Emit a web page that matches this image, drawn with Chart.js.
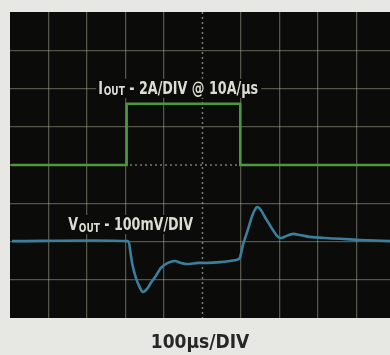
<!DOCTYPE html>
<html>
<head>
<meta charset="utf-8">
<script src="https://cdn.jsdelivr.net/npm/chart.js@4.4.1/dist/chart.umd.min.js"></script>
<style>
  html, body { margin: 0; padding: 0; background: #e7e8e4; overflow: hidden; }
  #wrap { position: relative; width: 390px; height: 355px; }
</style>
</head>
<body>
<div id="wrap"><canvas id="c" width="390" height="355"></canvas></div>
<script>
// Time axis in divisions (100 µs/DIV), vertical axis in divisions
const ioutX = [0.03, 3.03, 3.03, 5.98, 5.98, 9.87];
const ioutY = [0.0, 0.0, 1.6, 1.6, 0.0, 0.0];

const voutX = [0.05, 3.06, 3.12, 3.17, 3.27, 3.38, 3.45, 3.56, 3.66, 3.77, 3.92, 4.10, 4.29, 4.44, 4.60, 4.88, 5.14, 5.45, 5.71, 5.90, 5.97, 6.05, 6.16, 6.29, 6.39, 6.44, 6.52, 6.65, 6.81, 6.94, 7.04, 7.17, 7.35, 7.53, 7.79, 8.18, 8.57, 9.09, 9.87];
const voutY = [-1.99, -1.99, -2.22, -2.56, -2.95, -3.22, -3.32, -3.24, -3.08, -2.93, -2.69, -2.56, -2.51, -2.56, -2.59, -2.56, -2.56, -2.54, -2.51, -2.48, -2.43, -2.09, -1.75, -1.33, -1.12, -1.10, -1.18, -1.41, -1.67, -1.86, -1.91, -1.86, -1.80, -1.83, -1.88, -1.91, -1.93, -1.96, -1.99];

const xTicks = [0, 1, 2, 3, 4, 5, 6, 7, 8, 9, 10];
const yTicks = [-4, -3, -2, -1, 0, 1, 2, 3, 4];

const ioutText = ['I', 'OUT', ' - 2A/DIV @ 10A/µs'];
const voutText = ['V', 'OUT', ' - 100mV/DIV'];
const timeLabel = '100µs/DIV';

const toPts = (xs, ys) => xs.map((x, i) => ({ x: x, y: ys[i] }));

const FONT = "'Liberation Sans Narrow', 'DejaVu Sans Condensed', 'Roboto', sans-serif";

const scopePlugin = {
  id: 'scope',
  beforeDraw(chart) {
    const { ctx, chartArea: a } = chart;
    ctx.save();
    ctx.fillStyle = '#0b0b09';
    ctx.fillRect(a.left, a.top, a.right - a.left, a.bottom - a.top);
    ctx.restore();
  },
  beforeDatasetsDraw(chart) {
    const { ctx, chartArea: a, scales } = chart;
    const cx = scales.x.getPixelForValue(5);
    const cy = scales.y.getPixelForValue(0);
    ctx.save();
    ctx.strokeStyle = 'rgba(215,215,195,0.55)';
    ctx.lineWidth = 1.5;
    ctx.setLineDash([2, 3]);
    ctx.beginPath();
    ctx.moveTo(cx, a.top); ctx.lineTo(cx, a.bottom);
    ctx.moveTo(a.left, cy); ctx.lineTo(a.right, cy);
    ctx.stroke();
    ctx.restore();
  },
  afterDatasetsDraw(chart, args, opts) {
    const { ctx, scales } = chart;
    const drawLabel = (parts, pos) => {
      const x0 = scales.x.getPixelForValue(pos.x);
      const yb = scales.y.getPixelForValue(pos.y);
      ctx.save();
      const big = 'bold 17px ' + FONT;
      const small = 'bold 12px ' + FONT;
      ctx.font = big; const w1 = ctx.measureText(parts[0]).width;
      ctx.font = small; const w2 = ctx.measureText(parts[1]).width;
      ctx.font = big; const w3 = ctx.measureText(parts[2]).width;
      const total = w1 + w2 + w3 + 1;
      const sx = pos.w / total;
      ctx.fillStyle = '#0b0b09';
      ctx.fillRect(x0 - 2, yb - 15, pos.w + 5, 19);
      ctx.translate(x0, yb);
      ctx.scale(sx, 1);
      ctx.fillStyle = '#dcdcd4';
      ctx.textBaseline = 'alphabetic';
      ctx.textAlign = 'left';
      ctx.font = big; ctx.fillText(parts[0], 0, 0);
      ctx.font = small; ctx.fillText(parts[1], w1 + 1, 1.5);
      ctx.font = big; ctx.fillText(parts[2], w1 + w2 + 1, 0);
      ctx.restore();
    };
    drawLabel(ioutText, opts.iout);
    drawLabel(voutText, opts.vout);
  }
};

const gridColor = (ctx) => {
  const v = ctx.tick && ctx.tick.value;
  if (v === undefined) return 'transparent';
  if (!Number.isInteger(v)) return 'transparent';
  return 'rgba(185,185,160,0.42)';
};

new Chart(document.getElementById('c'), {
  type: 'scatter',
  data: {
    datasets: [
      {
        label: 'IOUT',
        data: toPts(ioutX, ioutY),
        showLine: true,
        borderColor: '#4f9640',
        borderWidth: 2.5,
        pointRadius: 0,
        tension: 0
      },
      {
        label: 'VOUT',
        data: toPts(voutX, voutY),
        showLine: true,
        borderColor: '#3a7f9e',
        borderWidth: 2.6,
        pointRadius: 0,
        tension: 0.2
      }
    ]
  },
  options: {
    responsive: false,
    animation: false,
    events: [],
    layout: { padding: { left: 10, right: 0, top: 12, bottom: 0 } },
    plugins: {
      legend: { display: false },
      tooltip: { enabled: false },
      title: {
        display: true,
        position: 'bottom',
        text: timeLabel,
        color: '#262624',
        font: { family: FONT, size: 19, weight: 'bold', lineHeight: 1.2 },
        padding: { top: 14, bottom: 0.2 }
      },
      scope: {
        iout: { x: 2.29, y: 1.86, w: 160 },
        vout: { x: 1.51, y: -1.70, w: 125 }
      }
    },
    scales: {
      x: {
        type: 'linear',
        min: 0,
        max: 9.87,
        afterBuildTicks: (s) => { s.ticks = xTicks.map(v => ({ value: v })); },
        ticks: { display: false },
        grid: {
          drawTicks: false,
          color: (c) => (c.tick && (c.tick.value === 0 || c.tick.value === 5)) ? 'transparent' : gridColor(c),
          lineWidth: 1.3
        },
        border: { display: false }
      },
      y: {
        type: 'linear',
        min: -4,
        max: 4,
        afterBuildTicks: (s) => { s.ticks = yTicks.map(v => ({ value: v })); },
        ticks: { display: false },
        grid: {
          drawTicks: false,
          color: (c) => (c.tick && (Math.abs(c.tick.value) === 4 || c.tick.value === 0)) ? 'transparent' : gridColor(c),
          lineWidth: 1.3
        },
        border: { display: false }
      }
    }
  },
  plugins: [scopePlugin]
});
</script>
</body>
</html>
